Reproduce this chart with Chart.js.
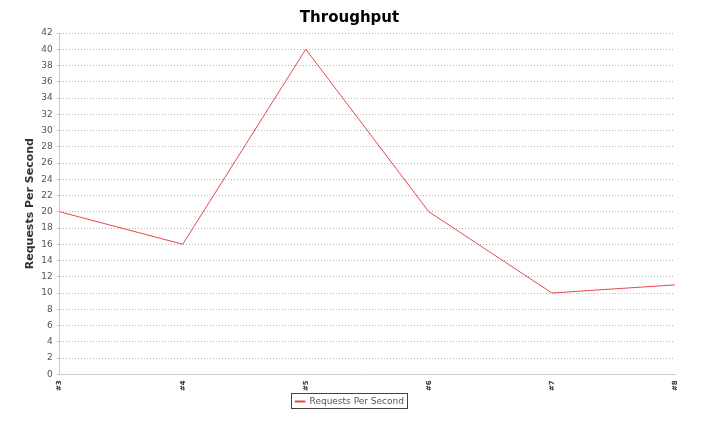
<!DOCTYPE html>
<html>
<head>
<meta charset="utf-8">
<script src="https://cdn.jsdelivr.net/npm/chart.js@4"></script>
<style>
  html, body { margin: 0; padding: 0; background: #fff; }
  #wrap { width: 713px; height: 425px; }
</style>
</head>
<body>
<div id="wrap"><canvas id="throughput"></canvas></div>
<script>
const categories = ["#3", "#4", "#5", "#6", "#7", "#8"];
const requestsPerSecond = [20, 16, 40, 20, 10, 11];
const yTicks = [0, 2, 4, 6, 8, 10, 12, 14, 16, 18, 20, 22, 24, 26, 28, 30, 32, 34, 36, 38, 40, 42];

// box round the legend, like the reference
const legendBorder = {
  id: "legendBorder",
  afterDraw(chart) {
    const lg = chart.legend;
    if (!lg || !lg.legendHitBoxes.length) return;
    const hb = lg.legendHitBoxes[0];
    const ctx = chart.ctx;
    ctx.save();
    ctx.strokeStyle = "#444";
    ctx.lineWidth = 1;
    ctx.strokeRect(Math.round(hb.left) - 3.5, Math.round(hb.top) - 3.5, Math.round(hb.width) + 7, Math.round(hb.height) + 6);
    ctx.restore();
  }
};

new Chart(document.querySelector("#throughput"), {
  type: "line",
  data: {
    labels: categories,
    datasets: [{
      label: "Requests Per Second",
      data: requestsPerSecond,
      borderColor: "#e8474c",
      backgroundColor: "#e8474c",
      borderWidth: 1,
      pointRadius: 0,
      tension: 0
    }]
  },
  options: {
    responsive: true,
    maintainAspectRatio: false,
    animation: false,
    layout: { padding: { left: 24, right: 38, top: 7, bottom: 9 } },
    scales: {
      x: {
        offset: false,
        grid: { display: false, drawTicks: true, tickLength: 4, tickColor: "#ccc" },
        border: { color: "#ccc" },
        ticks: {
          minRotation: 90,
          maxRotation: 90,
          color: "#333",
          font: { family: "DejaVu Sans", size: 7, weight: "bold" },
          padding: 2
        }
      },
      y: {
        min: 0,
        max: 42,
        afterBuildTicks: axis => { axis.ticks = yTicks.map(v => ({ value: v })); },
        grid: { color: "#b4b4b4", drawTicks: true, tickLength: 3, tickColor: "#ccc", lineWidth: 1 },
        border: { color: "#ccc", dash: [1, 2] },
        ticks: {
          color: "#555",
          font: { family: "DejaVu Sans", size: 9 },
          padding: 4
        },
        title: {
          display: true,
          text: "Requests Per Second",
          color: "#333",
          font: { family: "DejaVu Sans", size: 11, weight: "bold" },
          padding: { top: 0, bottom: 0 }
        }
      }
    },
    plugins: {
      title: {
        display: true,
        text: "Throughput",
        color: "#000",
        font: { family: "DejaVu Sans", size: 15, weight: "bold" },
        padding: { top: 2, bottom: 6 }
      },
      legend: {
        position: "bottom",
        labels: {
          boxWidth: 10,
          boxHeight: 1,
          color: "#555",
          font: { family: "DejaVu Sans", size: 9 },
          padding: 4
        }
      },
      tooltip: { enabled: false }
    }
  },
  plugins: [legendBorder]
});
</script>
</body>
</html>
